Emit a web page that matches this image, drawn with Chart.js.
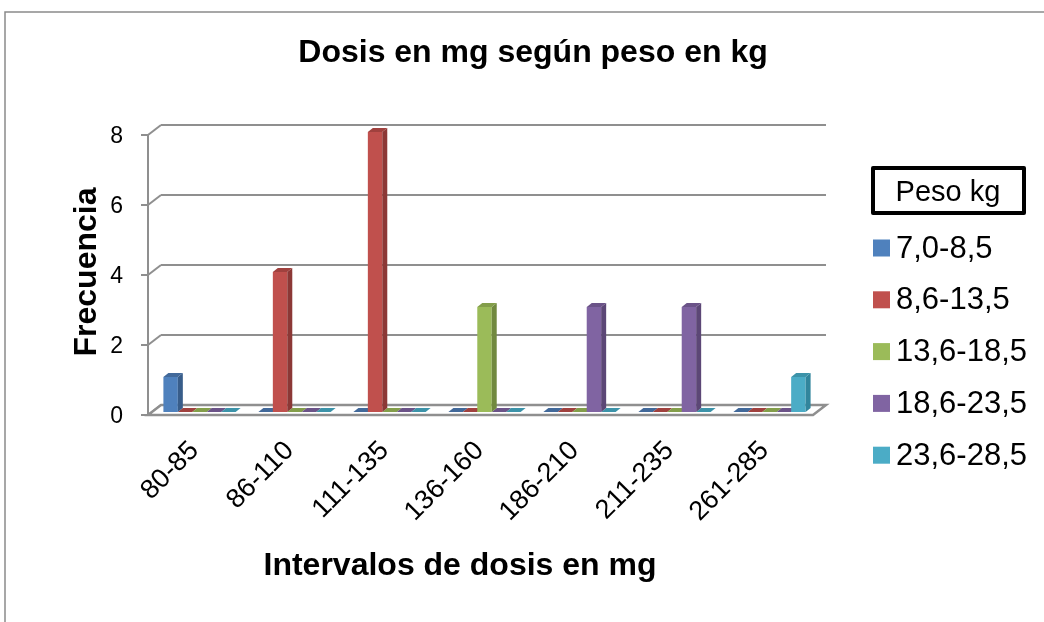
<!DOCTYPE html>
<html>
<head>
<meta charset="utf-8">
<script src="https://cdn.jsdelivr.net/npm/chart.js@4/dist/chart.umd.min.js"></script>
<style>
  html, body { margin: 0; padding: 0; background: #fff; }
</style>
</head>
<body>
<canvas id="myChart" width="1044" height="622"></canvas>
<script>
// chart data
const chartTitle = 'Dosis en mg según peso en kg';
const xTitle = 'Intervalos de dosis en mg';
const yTitle = 'Frecuencia';
const legendTitle = 'Peso kg';

const categories = ['80-85', '86-110', '111-135', '136-160', '186-210', '211-235', '261-285'];
const seriesNames = ['7,0-8,5', '8,6-13,5', '13,6-18,5', '18,6-23,5', '23,6-28,5'];
const peso7_85 = [1, 0, 0, 0, 0, 0, 0];
const peso86_135 = [0, 4, 8, 0, 0, 0, 0];
const peso136_185 = [0, 0, 0, 3, 0, 0, 0];
const peso186_235 = [0, 0, 0, 0, 3, 3, 0];
const peso236_285 = [0, 0, 0, 0, 0, 0, 1];
const yTicks = [0, 2, 4, 6, 8];

const FRONT = ['#4F81BD', '#C0504D', '#9BBB59', '#8064A2', '#4BACC6'];
const SIDE = ['#385D8A', '#8C3836', '#71893F', '#5C4776', '#31859C'];
const TOP = ['#42699A', '#A0413E', '#839E4A', '#6B5388', '#3C93A9'];
const GRID = '#8f8f8f';
const FONT = '"Liberation Sans", Arial, sans-serif';

// 3d look: back wall / front axis offsets and bar depth
const BACK = { dx: 9, dy: -7 };
const FRONTOFF = { dx: -4, dy: 3 };
const DEPTH = { dx: 5, dy: -4 };

function poly(ctx, pts, fill, stroke) {
    ctx.beginPath();
    ctx.moveTo(pts[0][0], pts[0][1]);
    for (let i = 1; i < pts.length; i++) ctx.lineTo(pts[i][0], pts[i][1]);
    ctx.closePath();
    if (fill) { ctx.fillStyle = fill; ctx.fill(); }
    if (stroke) { ctx.strokeStyle = stroke; ctx.stroke(); }
}

function line(ctx, x1, y1, x2, y2) {
    ctx.beginPath();
    ctx.moveTo(x1, y1);
    ctx.lineTo(x2, y2);
    ctx.stroke();
}

const excel3d = {
    id: 'excel3d',
    beforeDraw(chart) {
        const ctx = chart.ctx;
        ctx.save();
        ctx.strokeStyle = '#8a8a8a';
        ctx.lineWidth = 1.5;
        ctx.beginPath();
        ctx.moveTo(5, 622);
        ctx.lineTo(5, 12);
        ctx.lineTo(1044, 12);
        ctx.stroke();
        ctx.restore();
    },
    beforeDatasetsDraw(chart) {
        const { ctx, chartArea: a, scales: { y } } = chart;
        ctx.save();
        ctx.strokeStyle = GRID;
        ctx.lineWidth = 2;
        const p0 = y.getPixelForValue(0);
        const pTop = y.getPixelForValue(yTicks[yTicks.length - 1]);
        yTicks.forEach(v => {
            const py = y.getPixelForValue(v);
            if (v > 0) line(ctx, a.left + BACK.dx, py + BACK.dy, a.right + BACK.dx, py + BACK.dy);
            line(ctx, a.left + FRONTOFF.dx, py + FRONTOFF.dy, a.left + BACK.dx, py + BACK.dy);
            line(ctx, a.left + FRONTOFF.dx - 7, py + FRONTOFF.dy, a.left + FRONTOFF.dx, py + FRONTOFF.dy);
        });
        line(ctx, a.left + FRONTOFF.dx, pTop + FRONTOFF.dy, a.left + FRONTOFF.dx, p0 + FRONTOFF.dy);
        // floor
        ctx.lineWidth = 2.5;
        poly(ctx, [
            [a.left + FRONTOFF.dx, p0 + FRONTOFF.dy],
            [a.right + FRONTOFF.dx, p0 + FRONTOFF.dy],
            [a.right + BACK.dx, p0 + BACK.dy],
            [a.left + BACK.dx, p0 + BACK.dy]
        ], '#ffffff', GRID);
        // flat slabs for zero values
        chart.data.datasets.forEach((ds, i) => {
            const meta = chart.getDatasetMeta(i);
            meta.data.forEach((el, j) => {
                if (ds.data[j] !== 0) return;
                const x0 = el.x - el.width / 2, x1 = el.x + el.width / 2, b = el.base;
                poly(ctx, [[x0, b], [x1, b], [x1 + DEPTH.dx, b + DEPTH.dy], [x0 + DEPTH.dx, b + DEPTH.dy]], TOP[i], null);
            });
        });
        ctx.restore();
    },
    afterDatasetsDraw(chart) {
        const ctx = chart.ctx;
        ctx.save();
        chart.data.datasets.forEach((ds, i) => {
            const meta = chart.getDatasetMeta(i);
            meta.data.forEach((el, j) => {
                if (ds.data[j] === 0) return;
                const x0 = el.x - el.width / 2, x1 = el.x + el.width / 2, t = el.y, b = el.base;
                poly(ctx, [[x1, t], [x1 + DEPTH.dx, t + DEPTH.dy], [x1 + DEPTH.dx, b + DEPTH.dy], [x1, b]], SIDE[i], null);
                poly(ctx, [[x0, t], [x1, t], [x1 + DEPTH.dx, t + DEPTH.dy], [x0 + DEPTH.dx, t + DEPTH.dy]], TOP[i], null);
            });
        });
        ctx.restore();
    },
    afterDraw(chart) {
        const ctx = chart.ctx;
        ctx.save();
        ctx.fillStyle = '#000';
        ctx.textAlign = 'center';
        ctx.textBaseline = 'middle';
        ctx.font = 'bold 32px ' + FONT;
        ctx.fillText(chartTitle, 533, 53);
        ctx.fillText(xTitle, 460, 566);

        // legend
        ctx.strokeStyle = '#000';
        ctx.lineWidth = 4;
        ctx.lineJoin = 'round';
        ctx.strokeRect(873, 168, 151, 45);
        ctx.font = '29px ' + FONT;
        ctx.fillText(legendTitle, 948, 193);
        ctx.textAlign = 'left';
        ctx.font = '31px ' + FONT;
        chart.data.datasets.forEach((ds, i) => {
            const cy = 248 + i * 51.8;
            ctx.fillStyle = FRONT[i];
            ctx.fillRect(873, cy - 8.5, 17, 17);
            ctx.fillStyle = '#000';
            ctx.fillText(ds.label, 896, cy + 1);
        });
        ctx.restore();
    }
};

const ctx = document.getElementById('myChart').getContext('2d');
const seriesData = [peso7_85, peso86_135, peso136_185, peso186_235, peso236_285];

const myChart = new Chart(ctx, {
    type: 'bar',
    data: {
        labels: categories,
        datasets: seriesNames.map((name, i) => ({
            label: name,
            data: seriesData[i],
            backgroundColor: FRONT[i],
            borderWidth: 0,
            barPercentage: 1.0,
            categoryPercentage: 0.76
        }))
    },
    options: {
        responsive: false,
        animation: false,
        devicePixelRatio: 1,
        layout: { padding: { left: 22, top: 132, right: 1044 - 817, bottom: 0 } },
        plugins: {
            legend: { display: false },
            title: { display: false },
            tooltip: { enabled: false }
        },
        scales: {
            x: {
                grid: { display: false, drawTicks: false },
                border: { display: false },
                ticks: {
                    color: '#000',
                    font: { family: FONT, size: 27 },
                    minRotation: 45,
                    maxRotation: 45,
                    padding: 23,
                    labelOffset: -5
                },
                afterFit(scale) { scale.height = 622 - 412; }
            },
            y: {
                min: 0,
                max: 8,
                grid: { display: false, drawTicks: false },
                border: { display: false },
                ticks: {
                    stepSize: 2,
                    color: '#000',
                    font: { family: FONT, size: 23 },
                    padding: 29,
                    labelOffset: 5
                },
                title: {
                    display: true,
                    text: yTitle,
                    color: '#000',
                    font: { family: FONT, size: 32, weight: 'bold' },
                    padding: { top: 46, bottom: 0 }
                },
                afterFit(scale) { scale.width = 152 - 22; }
            }
        }
    },
    plugins: [excel3d]
});
</script>
</body>
</html>
